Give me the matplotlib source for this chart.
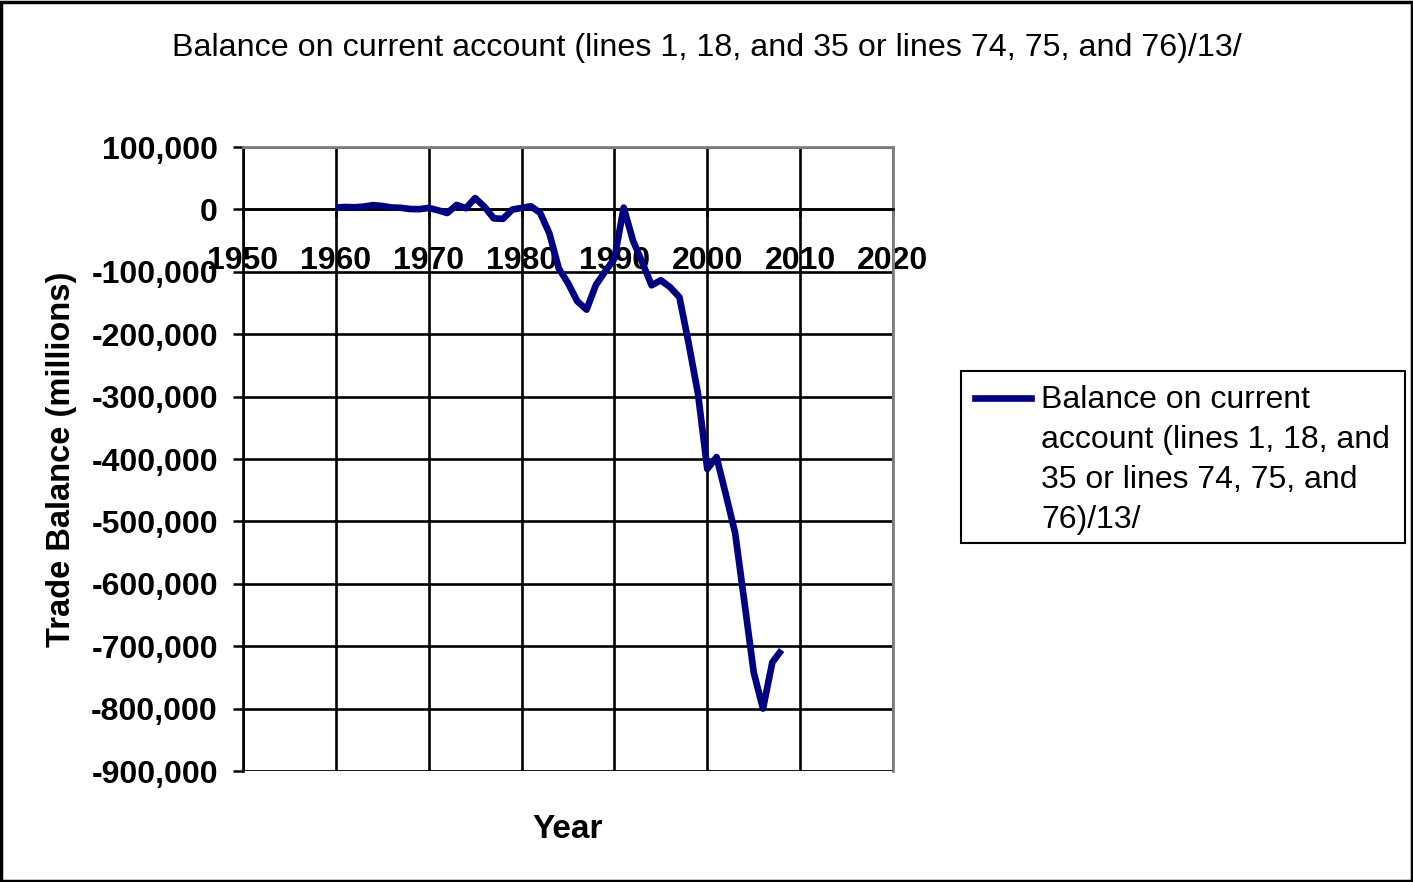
import matplotlib
matplotlib.use("Agg")
import matplotlib.pyplot as plt
from matplotlib.patches import Rectangle
from matplotlib.lines import Line2D
from matplotlib.ticker import FuncFormatter

# US balance on current account, millions of dollars
years = list(range(1960, 2009))
balance = [2824, 3822, 3387, 4414, 6823, 5431, 3031, 2583, 611, 399,
           2331, -1433, -5795, 7140, 1962, 18116, 4295, -14335, -15143, -285,
           2317, 5030, -5536, -38691, -94344, -118155, -147177, -160655, -121153, -99486,
           -78968, 2897, -50078, -84806, -121612, -113567, -124764, -140726, -215062, -295530,
           -415999, -397000, -457000, -518657, -629305, -742000, -800000, -726000, -706068]

title = 'Balance on current account (lines 1, 18, and 35 or lines 74, 75, and 76)/13/'
legend_lines = ['Balance on current', 'account (lines 1, 18, and',
                '35 or lines 74, 75, and', '76)/13/']
xticks = list(range(1950, 2021, 10))
yticks = list(range(-900000, 100001, 100000))

W, H = 1413, 882
navy = '#000080'

plt.rcParams['font.family'] = ['Liberation Sans', 'DejaVu Sans']

fig = plt.figure(figsize=(W / 100, H / 100), dpi=100)
ax = fig.add_axes([243 / W, 1 - 771 / H, 650 / W, 624 / H])

ax.plot(years, balance, color=navy, linewidth=4.8,
        solid_joinstyle='round', solid_capstyle='butt', zorder=3)

ax.set_xlim(1950, 2020)
ax.set_ylim(-900000, 100000)
ax.set_xticks(xticks)
ax.set_yticks(yticks)
ax.yaxis.set_major_formatter(FuncFormatter(lambda v, p: f'{int(v):,}'))

ax.grid(True, color='black', linewidth=1.9, zorder=1)
ax.set_axisbelow(True)

# category axis crosses at zero
ax.spines['bottom'].set_position(('data', 0))
ax.spines['bottom'].set_color('black')
ax.spines['bottom'].set_linewidth(1.9)
ax.spines['left'].set_color('black')
ax.spines['left'].set_linewidth(1.9)
for s in ['top', 'right']:
    ax.spines[s].set_color('#808080')
    ax.spines[s].set_linewidth(2)
ax.add_patch(Rectangle((0, 0), 1, 1, transform=ax.transAxes, fill=False,
                       edgecolor='#808080', linewidth=2, zorder=0.5))

ax.tick_params(axis='y', direction='out', length=7, width=1.8, labelsize=23, pad=11)
ax.tick_params(axis='x', direction='out', length=6, width=1.8, labelsize=23, pad=20)
for lbl in ax.get_xticklabels() + ax.get_yticklabels():
    lbl.set_fontweight('bold')

ax.set_xlabel('Year', fontsize=24, fontweight='bold')
ax.xaxis.set_label_coords(0.5, -0.069)
ax.set_ylabel('Trade Balance (millions)', fontsize=23.5, fontweight='bold')
ax.yaxis.set_label_coords(-0.255, 0.5)

fig.text(0.5, 1 - 48 / H, title, ha='center', va='center', fontsize=23.2)

# legend box, drawn like the spreadsheet one (sample aligned with first line)
fig.patches.append(Rectangle((961 / W, 1 - 543 / H), 444 / W, 172 / H,
                             transform=fig.transFigure, fill=False,
                             edgecolor='black', linewidth=1.5))
fig.lines.append(Line2D([975 / W, 1031 / W], [1 - 398 / H, 1 - 398 / H],
                        transform=fig.transFigure, color=navy, linewidth=4.8))
for i, txt in enumerate(legend_lines):
    fig.text(1041 / W, 1 - (400 + 40 * i) / H, txt, ha='left', va='center', fontsize=23)

fig.patches.append(Rectangle((0.001, 0.001), 0.998, 0.997, transform=fig.transFigure,
                             fill=False, edgecolor='black', linewidth=2.5))

fig.savefig('out.png', dpi=100)
